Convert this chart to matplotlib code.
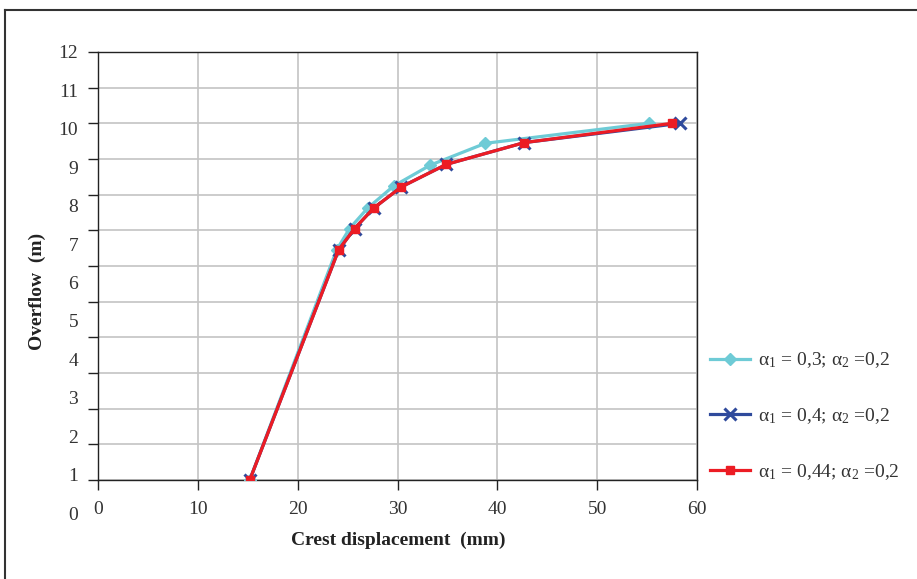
import matplotlib
matplotlib.use('Agg')
import matplotlib.pyplot as plt
import matplotlib.transforms as mtransforms
from matplotlib.lines import Line2D

plt.rcParams['font.family'] = ['Liberation Serif', 'DejaVu Serif']
plt.rcParams['mathtext.fontset'] = 'custom'
plt.rcParams['mathtext.rm'] = 'Liberation Serif'
plt.rcParams['mathtext.it'] = 'Liberation Serif:italic'

# data
x_a03 = [15.2, 23.9, 25.2, 27.0, 29.6, 33.3, 38.8, 55.2]
y_a03 = [0.0, 6.45, 7.05, 7.62, 8.24, 8.83, 9.44, 10.0]
x_a04 = [15.2, 24.1, 25.7, 27.6, 30.4, 34.9, 42.7, 58.3]
y_a04 = [0.0, 6.45, 7.05, 7.62, 8.22, 8.85, 9.46, 10.0]
x_a044 = [15.2, 24.1, 25.7, 27.6, 30.4, 34.9, 42.7, 57.5]
y_a044 = [0.0, 6.45, 7.05, 7.62, 8.22, 8.85, 9.46, 10.0]

labels = [r'α$_1$ = 0,3; α$_2$ =0,2',
          r'α$_1$ = 0,4; α$_2$ =0,2',
          r'α$_1$ = 0,44; α$_2$ =0,2']
x_ticks = [0, 10, 20, 30, 40, 50, 60]
y_ticks = list(range(0, 13))
y_tick_labels = [str(v) for v in y_ticks]

FS = 14
fig = plt.figure(figsize=(9.17, 5.79), dpi=100)
W, H = 917, 579
ax = fig.add_axes([98 / W, (579 - 480) / H, (697 - 98) / W, (480 - 52) / H])

ax.plot(x_a03, y_a03, color='#6ecbd6', lw=2.3, marker='D', ms=6.5,
        label=labels[0], zorder=3)
ax.plot(x_a04, y_a04, color='#2f4a9c', lw=2.3, marker='x', ms=8, mew=2.2,
        label=labels[1], zorder=4)
ax.plot(x_a044, y_a044, color='#ec1c24', lw=2.3, marker='s', ms=6,
        label=labels[2], zorder=5)

ax.set_xlim(0, 60)
ax.set_ylim(0, 12)
ax.set_xticks(x_ticks)
ax.set_yticks(y_ticks)
ax.set_yticklabels([])
ax.grid(True, color='#c4c4c4', lw=1.2)
ax.set_axisbelow(True)
for s in ax.spines.values():
    s.set_color('#222222')
    s.set_linewidth(1.0)
ax.tick_params(axis='both', direction='out', length=7, width=1, color='#222222',
               labelsize=FS, labelcolor='#333333')
ax.tick_params(axis='x', pad=8)

# y tick labels sit slightly off the gridlines in the original
px_per_unit = (480 - 52) / 12
offs = mtransforms.ScaledTranslation(-20 / 100, 0, fig.dpi_scale_trans)
trans = mtransforms.blended_transform_factory(ax.transAxes, ax.transData) + offs
for v, lab in zip(y_ticks, y_tick_labels):
    pix = 54 + (12 - v) * 38.42
    yd = (480 - pix) / px_per_unit
    ax.text(0, yd, lab, transform=trans, ha='right', va='center',
            fontsize=FS, color='#333333')

fig.text(398 / W, 1 - 540 / H, 'Crest displacement  (mm)', ha='center',
         va='center', fontsize=FS, fontweight='bold', color='#222222')
fig.text(37 / W, 1 - 291 / H, 'Overflow  (m)', ha='center', va='center',
         rotation=90, fontsize=FS, fontweight='bold', color='#222222')

leg = fig.legend(loc='upper left', bbox_to_anchor=(692 / W, 1 - 333 / H),
                 frameon=False, fontsize=FS, labelspacing=1.85,
                 handlelength=2.1, handletextpad=0.4, labelcolor='#333333')

# outer frame (left and top edges)
fig.add_artist(Line2D([5 / W, 5 / W], [0, 1 - 10 / H], transform=fig.transFigure,
                      color='#333333', lw=1.5))
fig.add_artist(Line2D([5 / W, 1], [1 - 10 / H, 1 - 10 / H], transform=fig.transFigure,
                      color='#333333', lw=1.5))

fig.savefig('out.png', dpi=100)
